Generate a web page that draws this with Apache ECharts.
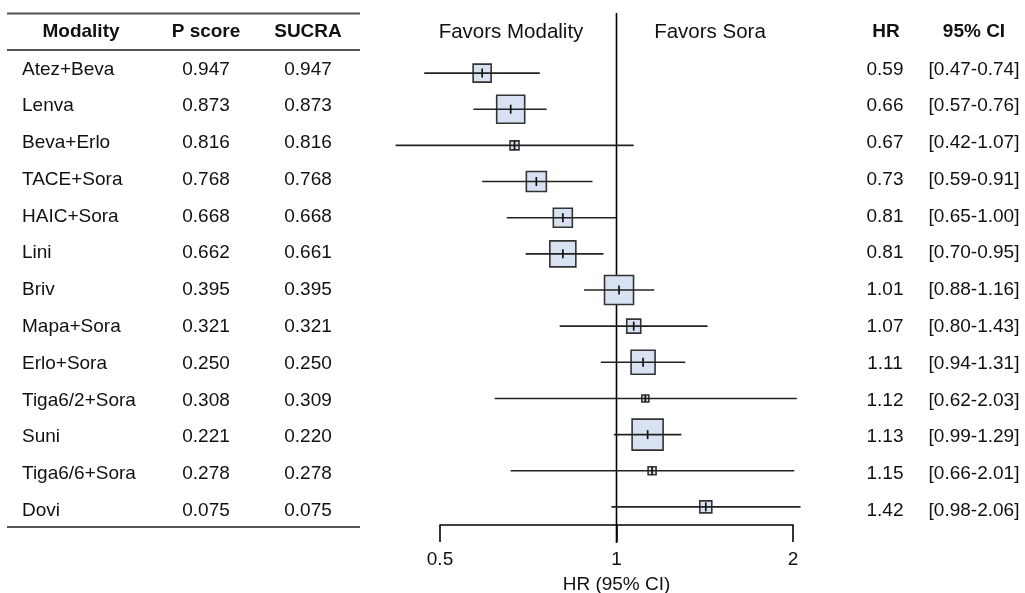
<!DOCTYPE html>
<html>
<head>
<meta charset="utf-8">
<script src="https://cdn.jsdelivr.net/npm/echarts@6/dist/echarts.min.js"></script>
<style>
html,body{margin:0;padding:0;background:#fff;}
#chart{width:1025px;height:593px;}
</style>
</head>
<body>
<div id="chart"></div>
<script>
// ---- data ----
var modalities = ['Atez+Beva','Lenva','Beva+Erlo','TACE+Sora','HAIC+Sora','Lini','Briv','Mapa+Sora','Erlo+Sora','Tiga6/2+Sora','Suni','Tiga6/6+Sora','Dovi'];
var pScore = [0.947,0.873,0.816,0.768,0.668,0.662,0.395,0.321,0.250,0.308,0.221,0.278,0.075];
var sucra  = [0.947,0.873,0.816,0.768,0.668,0.661,0.395,0.321,0.250,0.309,0.220,0.278,0.075];
var hr     = [0.59,0.66,0.67,0.73,0.81,0.81,1.01,1.07,1.11,1.12,1.13,1.15,1.42];
var ciLow  = [0.47,0.57,0.42,0.59,0.65,0.70,0.88,0.80,0.94,0.62,0.99,0.66,0.98];
var ciHigh = [0.74,0.76,1.07,0.91,1.00,0.95,1.16,1.43,1.31,2.03,1.29,2.01,2.06];
// relative study weight (box size proxy)
var weight = [18,28,9,20,19,26,29,14,24,7,31,8,12];
var xTicks = [0.5,1,2];
var refValue = 1;

var FONT = '"Liberation Sans", Arial, sans-serif';
var FS = 19;
var TXT = '#111';

var forestData = hr.map(function(v,i){ return [i, v, ciLow[i], ciHigh[i], weight[i]]; });
var tableData = modalities.map(function(m,i){ return [i, 0]; });

var chart = echarts.init(document.getElementById('chart'), null, {renderer:'canvas'});

function head(str, x, bold, size){
  return {type:'text', x:x, y:32, style:{text:str, font:(bold?'bold ':'')+size+'px '+FONT, fill:TXT, textAlign:'center', textVerticalAlign:'middle'}};
}

var option = {
  animation:false,
  backgroundColor:'#fff',
  grid:[
    {left:440, width:353, top:55, height:470, outerBoundsMode:'none', containLabel:false},
    {left:0, width:1025, top:51, height:478, outerBoundsMode:'none', containLabel:false}
  ],
  xAxis:[
    {
      gridIndex:0, type:'log', logBase:2, min:xTicks[0], max:xTicks[xTicks.length-1],
      axisLine:{show:true, lineStyle:{color:'#000', width:1.6}},
      axisTick:{show:true, length:17, lineStyle:{color:'#000', width:1.6}},
      axisLabel:{fontSize:19, fontFamily:FONT, color:TXT, margin:25,
        formatter:function(v){ return String(+v.toFixed(2)); }},
      splitLine:{show:false},
      name:'HR (95% CI)', nameLocation:'middle', nameGap:50,
      nameTextStyle:{fontSize:19, fontFamily:FONT, color:TXT}
    },
    {gridIndex:1, type:'value', min:0, max:1, show:false}
  ],
  yAxis:[
    {gridIndex:0, type:'category', data:modalities, inverse:true, show:false},
    {gridIndex:1, type:'category', data:modalities, inverse:true, show:false}
  ],
  graphic:[
    {type:'line', shape:{x1:7,y1:13.5,x2:360,y2:13.5}, style:{stroke:'#555', lineWidth:2}},
    {type:'line', shape:{x1:7,y1:50,x2:360,y2:50}, style:{stroke:'#555', lineWidth:2}},
    {type:'line', shape:{x1:7,y1:527,x2:360,y2:527}, style:{stroke:'#555', lineWidth:2}},
    head('Modality', 81, true, 19),
    head('P score', 206, true, 19),
    head('SUCRA', 308, true, 19),
    head('HR', 886, true, 19),
    head('95% CI', 974, true, 19),
    head('Favors Modality', 511, false, 20.5),
    head('Favors Sora', 710, false, 20.5)
  ],
  series:[
    {
      type:'custom', xAxisIndex:0, yAxisIndex:0, clip:false, z:2,
      data:[[refValue, 0]],
      encode:{x:0, y:1},
      renderItem:function(params, api){
        var x = api.coord([api.value(0), 0])[0];
        var cs = params.coordSys;
        return {type:'line', shape:{x1:x, y1:cs.y-42, x2:x, y2:cs.y+cs.height+18},
          style:{stroke:'#000', lineWidth:1.6}};
      }
    },
    {
      type:'custom', xAxisIndex:0, yAxisIndex:0, clip:false, z:3,
      data:forestData,
      encode:{x:[1,2,3], y:0},
      renderItem:function(params, api){
        var i = api.value(0);
        var c = api.coord([api.value(1), i]);
        var l = api.coord([api.value(2), i]);
        var h = api.coord([api.value(3), i]);
        var s = api.value(4);
        var t = Math.min(9, s);
        return {type:'group', children:[
          {type:'rect', shape:{x:c[0]-s/2, y:c[1]-s/2, width:s, height:s},
            style:{fill:'#d9e2f3', stroke:'#333', lineWidth:1.6}},
          {type:'line', shape:{x1:l[0], y1:c[1], x2:h[0], y2:c[1]},
            style:{stroke:'#222', lineWidth:1.6}},
          {type:'line', shape:{x1:c[0], y1:c[1]-t/2, x2:c[0], y2:c[1]+t/2},
            style:{stroke:'#111', lineWidth:1.7}}
        ]};
      }
    },
    {
      type:'custom', xAxisIndex:1, yAxisIndex:1, clip:false, z:3,
      data:tableData,
      encode:{x:1, y:0},
      renderItem:function(params, api){
        var i = api.value(0);
        var y = api.coord([0, i])[1];
        function tx(str, x, align){
          return {type:'text', x:x, y:y, style:{text:str, font:FS+'px '+FONT, fill:TXT, textAlign:align, textVerticalAlign:'middle'}};
        }
        return {type:'group', children:[
          tx(modalities[i], 22, 'left'),
          tx(pScore[i].toFixed(3), 206, 'center'),
          tx(sucra[i].toFixed(3), 308, 'center'),
          tx(hr[i].toFixed(2), 885, 'center'),
          tx('[' + ciLow[i].toFixed(2) + '-' + ciHigh[i].toFixed(2) + ']', 974, 'center')
        ]};
      }
    }
  ]
};
chart.setOption(option);
</script>
</body>
</html>
